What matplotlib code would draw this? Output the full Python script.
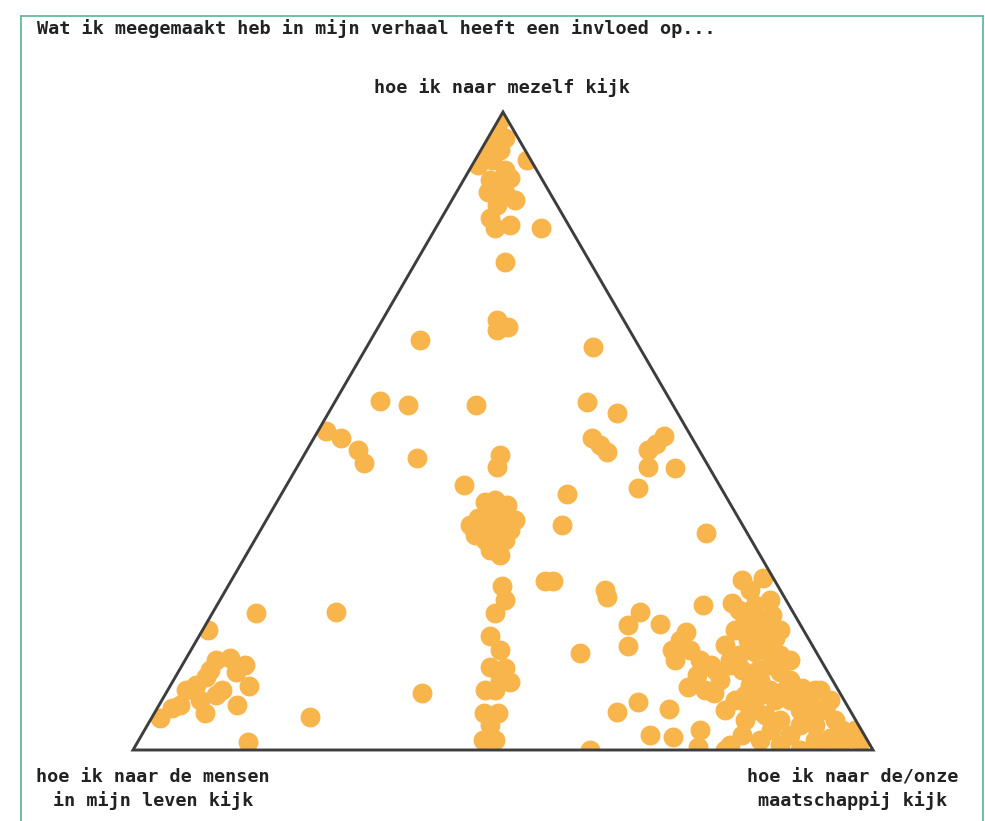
import numpy as np
import matplotlib
matplotlib.use("Agg")
import matplotlib.pyplot as plt
from matplotlib.patches import Polygon
from matplotlib.lines import Line2D

# ---------------------------------------------------------------------------
# data: ternary answers in percent (mezelf = top, maatschappij = right corner,
# mensen = left corner = rest)
# ---------------------------------------------------------------------------
title = "Wat ik meegemaakt heb in mijn verhaal heeft een invloed op..."
label_top = "hoe ik naar mezelf kijk"
label_left = "hoe ik naar de mensen\nin mijn leven kijk"
label_right = "hoe ik naar de/onze\nmaatschappij kijk"

mezelf = [
    99.1, 97.5, 95.6, 95.9, 93.3, 91.7, 92.5, 92.5, 89.3, 88.6,
    89.7, 87.5, 87.3, 86.2, 83.4, 81.8, 82.3, 81.8, 76.5, 67.4,
    65.8, 66.3, 64.3, 63.2, 54.7, 54.1, 54.1, 54.5, 52.8, 50.0,
    48.9, 48.9, 47.8, 46.7, 49.2, 48.0, 47.0, 47.0, 45.0, 45.8,
    46.2, 44.4, 44.4, 44.2, 41.5, 40.1, 41.1, 38.9, 38.4, 36.4,
    36.8, 36.1, 34.5, 34.5, 34.5, 32.9, 32.1, 31.3, 32.9, 33.7,
    35.3, 34.0, 26.5, 26.5, 25.7, 23.5, 25.1, 24.0, 26.6, 27.0,
    25.1, 23.0, 21.9, 22.7, 23.5, 20.4, 20.4, 18.8, 21.2, 17.6,
    18.8, 17.2, 22.7, 21.5, 21.6, 21.5, 21.6, 19.6, 19.7, 18.8,
    17.9, 18.5, 17.2, 15.7, 15.7, 14.1, 14.1, 16.5, 14.1, 16.3,
    15.2, 15.7, 14.1, 14.4, 13.3, 12.2, 10.0, 12.5, 13.0, 12.9,
    11.0, 9.4, 10.7, 9.4, 8.9, 9.9, 8.9, 11.4, 10.2, 9.4,
    7.8, 8.6, 7.1, 6.6, 5.0, 5.8, 7.1, 9.4, 5.2, 6.0,
    7.5, 6.4, 5.8, 5.8, 3.9, 1.6, 1.6, 1.3, 0.0, 2.4,
    2.0, 0.5, 3.1, 0.8, 2.4, 0.0, 13.3, 12.5, 12.5, 13.3,
    12.2, 11.0, 9.7, 9.4, 10.2, 8.6, 7.8, 7.8, 6.3, 7.1,
    9.4, 6.3, 4.7, 3.9, 3.9, 4.7, 5.5, 6.3, 3.1, 1.9,
    1.9, 1.6, 1.3, 0.0, 0.0, 0.8, 1.6, 4.7, 7.8, 7.1,
    9.4, 9.4, 14.9, 15.4, 12.5, 11.0, 13.3, 11.8, 9.4, 14.1,
    15.7, 17.2, 2.4, 4.7, 0.8, 3.1, 7.8, 7.8, 11.0, 14.9,
    8.6, 6.3, 3.1, 6.3, 19.6, 18.8, 35.3, 36.1, 39.2, 30.6,
    94.4, 94.0, 90.9, 85.4,
]

maatschappij = [
    0.3, 0.4, 0.4, 2.3, 0.9, 0.8, 2.3, 7.0, 3.6, 5.3,
    6.1, 4.2, 6.6, 8.5, 6.5, 8.0, 9.8, 14.2, 12.0, 15.5,
    16.3, 17.5, 6.6, 30.6, 6.0, 10.1, 19.3, 34.1, 39.0, 1.1,
    3.7, 37.6, 39.2, 40.7, 47.2, 46.7, 46.1, 6.9, 8.7, 15.5,
    26.5, 27.0, 47.4, 51.1, 24.0, 38.6, 47.7, 28.1, 31.3, 28.4,
    29.8, 32.0, 29.6, 31.7, 33.7, 31.1, 33.3, 32.6, 33.8, 29.4,
    40.3, 60.4, 42.4, 43.5, 37.0, 38.5, 51.2, 52.1, 69.0, 71.6,
    70.8, 69.4, 71.0, 72.7, 74.3, 72.5, 74.5, 74.2, 75.8, 78.0,
    72.0, 74.5, 65.7, 5.9, 16.6, 38.2, 57.7, 57.1, 61.4, 0.7,
    39.3, 65.5, 65.3, 67.4, 65.0, 69.6, 66.2, 71.8, 73.6, 58.8,
    52.8, 41.8, 4.2, 5.9, 8.5, 7.8, 10.7, 4.2, 41.7, 43.8,
    44.1, 44.2, 45.6, 42.9, 34.6, 70.0, 74.1, 4.2, 3.4, 2.5,
    5.2, 6.9, 2.8, 2.0, 1.1, 6.8, 10.5, 7.3, 21.3, 62.4,
    64.5, 69.2, 44.5, 46.4, 46.3, 48.1, 46.5, 14.9, 61.8, 68.7,
    72.0, 76.1, 75.1, 80.3, 81.1, 80.0, 74.0, 76.0, 78.2, 79.4,
    81.3, 83.3, 85.5, 87.5, 78.3, 80.4, 82.9, 84.9, 87.0, 87.9,
    88.1, 90.4, 92.5, 90.2, 88.2, 85.1, 82.7, 80.9, 94.3, 95.9,
    93.2, 91.4, 97.6, 92.8, 90.1, 87.0, 83.9, 80.3, 77.5, 79.5,
    81.4, 83.4, 74.5, 76.4, 72.4, 73.8, 71.4, 70.3, 72.6, 81.7,
    78.0, 76.1, 87.6, 89.2, 95.1, 84.6, 90.3, 86.9, 79.2, 80.0,
    78.4, 76.9, 96.0, 89.7, 75.6, 78.0, 27.9, 33.6, 29.3, 34.3,
    0.1, 2.6, 4.8, 6.5,
]

mensen = [100.0 - a - b for a, b in zip(mezelf, maatschappij)]

# ---------------------------------------------------------------------------
# ternary -> cartesian (left corner (0,0), right corner (1,0), top (0.5,h))
# ---------------------------------------------------------------------------
H = np.sqrt(3) / 2
top = np.array(mezelf) / 100.0
right = np.array(maatschappij) / 100.0
xs = right + top / 2
ys = top * H

W, HGT = 985, 821
fig = plt.figure(figsize=(W / 100, HGT / 100), dpi=100)
fig.patch.set_facecolor("white")

# triangle occupies pixels x 133..873, y 112..750
ax = fig.add_axes([133 / W, (HGT - 750) / HGT, 740 / W, 638 / HGT])
ax.set_xlim(0, 1)
ax.set_ylim(0, H)
ax.axis("off")

corners = [(0, 0), (1, 0), (0.5, H)]
clip = Polygon(corners, closed=True, transform=ax.transData,
               facecolor="none", edgecolor="none")
ax.add_patch(clip)

dots = ax.scatter(xs, ys, s=205, color="#f7b54b", linewidths=0, zorder=2)
dots.set_clip_path(clip)

outline = Polygon(corners, closed=True, facecolor="none",
                  edgecolor="#3d3d3d", linewidth=2.1, zorder=3,
                  joinstyle="miter", clip_on=False)
ax.add_patch(outline)

# labels
font = dict(family="DejaVu Sans Mono", fontsize=13.3, color="#222222",
            fontweight="bold")
fig.text(37 / W, 1 - 29 / HGT, title, ha="left", va="center", **font)
fig.text(502 / W, 1 - 88 / HGT, label_top, ha="center", va="center", **font)
fig.text(153 / W, 1 - 789 / HGT, label_left, ha="center", va="center",
         multialignment="center", linespacing=1.3, **font)
fig.text(853 / W, 1 - 789 / HGT, label_right, ha="center", va="center",
         multialignment="center", linespacing=1.3, **font)

# green frame (open at the bottom)
green = "#62bb99"
fig.add_artist(Line2D([21 / W, 21 / W], [0, 1 - 16 / HGT], color=green,
                      linewidth=1.3, transform=fig.transFigure))
fig.add_artist(Line2D([21 / W, 983 / W], [1 - 16 / HGT, 1 - 16 / HGT],
                      color=green, linewidth=1.3, transform=fig.transFigure))
fig.add_artist(Line2D([983 / W, 983 / W], [0, 1 - 16 / HGT], color=green,
                      linewidth=1.3, transform=fig.transFigure))

fig.savefig("out.png", dpi=100, facecolor="white")
